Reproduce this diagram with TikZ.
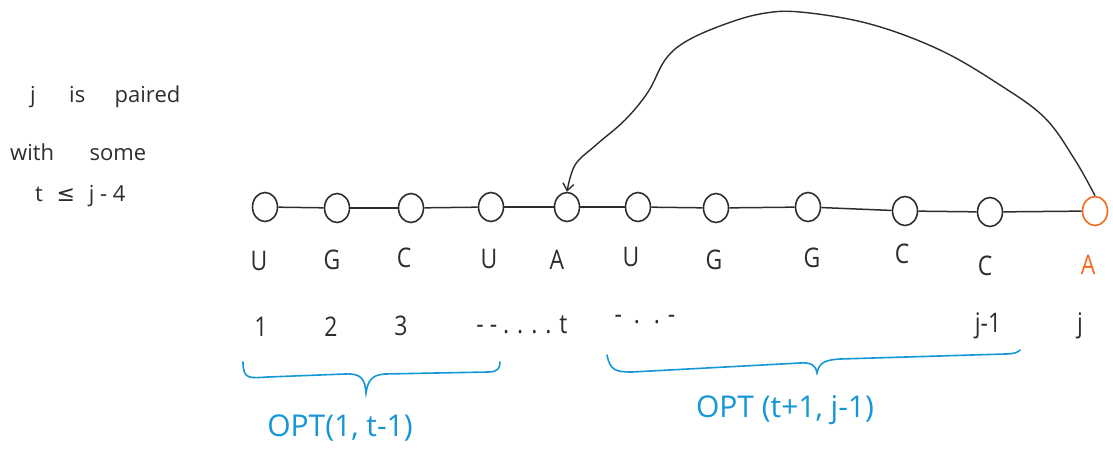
\documentclass[tikz,border=0pt]{standalone}
\usepackage{fontspec}
\setmainfont{Open Sans}
\newfontfamily\symfont{DejaVu Sans}
\usetikzlibrary{arrows.meta}
\definecolor{ink}{RGB}{45,45,45}
\definecolor{bluei}{RGB}{20,150,215}
\definecolor{orangei}{RGB}{240,105,30}
\tikzset{
  base/.style={draw=ink, ellipse, line width=1.6pt, minimum width=25pt, minimum height=29pt, inner sep=0pt},
  basehi/.style={base, draw=orangei},
  link/.style={draw=ink, line width=1.5pt},
  lett/.style={text=ink, font=\fontsize{27}{29}\selectfont\addfontfeature{FakeStretch=0.85}, inner sep=0pt},
  note/.style={text=ink, font=\fontsize{22}{24}\selectfont, inner sep=0pt, anchor=west},
  bracec/.style={draw=bluei, line width=1.6pt, line cap=round},
  optlab/.style={text=bluei, font=\fontsize{30}{32}\selectfont, inner sep=0pt},
}
\usetikzlibrary{shapes.geometric}
\begin{document}
\begin{tikzpicture}[x=1pt,y=-1pt]
\useasboundingbox (0,0) rectangle (1113,455);
% left note
\node[note] (n1t) at (30,97) {j \hspace{22pt} is \hspace{18pt} paired};
\node[note] (n2t) at (10,152) {with \hspace{24pt} some};
\node[note] (n3t) at (35,196) {t \hspace{8pt}{\symfont ≤}\hspace{8pt} j - 4};
% bases
\node[base] (b1) at (265,207) {};
\node[base] (b2) at (337,208) {};
\node[base] (b3) at (411,208) {};
\node[base] (b4) at (491,207) {};
\node[base] (b5) at (567,207) {};
\node[base] (b6) at (638,207) {};
\node[base] (b7) at (716,208) {};
\node[base] (b8) at (808,207) {};
\node[base] (b9) at (905,211) {};
\node[base] (b10) at (990,212) {};
\node[basehi] (b11) at (1095,211) {};
\foreach \a/\b in {b1/b2,b2/b3,b3/b4,b4/b5,b5/b6,b6/b7,b7/b8,b8/b9,b9/b10,b10/b11}
  \draw[link] (\a) -- (\b);
% letters
\node[lett] (l1) at (259,261) {U};
\node[lett] (l2) at (332,260) {G};
\node[lett] (l3) at (404,258) {C};
\node[lett] (l4) at (489,259) {U};
\node[lett] (l5) at (557,260) {A};
\node[lett] (l6) at (631,257) {U};
\node[lett] (l7) at (714,260) {G};
\node[lett] (l8) at (812,258) {G};
\node[lett] (l9) at (902,254) {C};
\node[lett] (l10) at (985,266) {C};
\node[lett, text=orangei] (l11) at (1088,265) {A};
% indices
\node[lett] (i1) at (261,327) {1};
\node[lett] (i2) at (331,327) {2};
\node[lett] (i3) at (401,326) {3};
\node[lett] (i4) at (522,325) {- - . . . . t};
\node[lett] (i5) at (645,320) {- \ . \ . -};
\node[lett] (i6) at (988,326) {j-1};
\node[lett] (i7) at (1080,326) {j};
% pairing arc
\draw[link, line width=1.4pt, -{Straight Barb[length=7pt,width=11pt]}]
  plot[smooth, tension=0.6] coordinates {(b11.north) (1075,160) (1045,118) (1000,85)
  (940,50) (870,24) (800,12) (760,14) (720,26) (685,42) (665,60) (648,92) (625,120)
  (596,145) (575,165) (b5.north)};
% braces
\coordinate (bl1) at (243,362);
\coordinate (bl2) at (500,362);
\coordinate (bl3) at (366,393);
\draw[bracec] (bl1) .. controls (243,380) and (250,378) .. (268,377)
  -- (345,374) .. controls (362,373) and (365,380) .. (bl3)
  .. controls (368,380) and (372,375) .. (385,374)
  -- (488,372) .. controls (498,372) and (500,368) .. (bl2);
\coordinate (br1) at (607,355);
\coordinate (br2) at (1020,350);
\coordinate (br3) at (817,373);
\draw[bracec] (br1) .. controls (610,370) and (615,372) .. (632,372)
  -- (800,363) .. controls (812,362) and (816,366) .. (br3)
  .. controls (819,363) and (824,360) .. (840,359)
  -- (1005,354) .. controls (1015,354) and (1018,352) .. (br2);
\node[optlab] (o1) at (340,428) {OPT(1, t-1)};
\node[optlab] (o2) at (785,410) {OPT (t+1, j-1)};
\end{tikzpicture}
\end{document}
